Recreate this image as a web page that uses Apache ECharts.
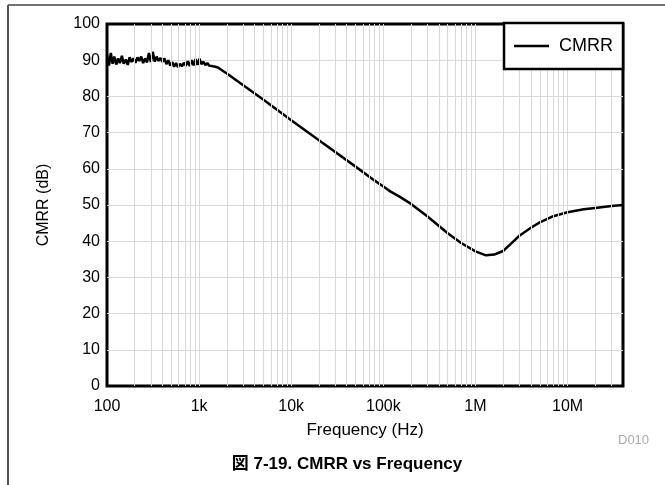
<!DOCTYPE html>
<html><head><meta charset="utf-8">
<script src="https://cdn.jsdelivr.net/npm/echarts@6/dist/echarts.min.js"></script>
<style>html,body{margin:0;padding:0;background:#fff}#c{width:665px;height:485px}</style>
</head><body><div id="c"></div>
<script>
// ---- data ----
const freqNoisy = [100,105,110,115,120,126,132,138,145,152,160,168,176,185,194,204,214,224,235,247,259,272,285,299,314,330,346,363,381,400,420,441,463,486,510,536,562,590,620,651,683,717,753,791,830,872,915,961,1009,1059,1112,1168,1226,1287,1351,1419,1500];
const cmrrNoisy = [91.5,88.5,92,89,91,88.8,90.5,89.2,91.2,89,90.2,88.7,90.8,89.5,90.5,89.3,90.8,89.8,91,89.2,90.5,89.4,92,89.5,92.3,89.6,91,89.8,90.6,89.5,90.5,88.9,90,88.5,89.5,88.2,89.2,88.1,89,88.3,89.3,88.5,89.7,88.4,90,88.6,90.3,88.7,90.4,88.9,89.6,88.6,89.2,88.5,88.7,88.3,88.2];
const freqSmooth = [1600,2000,5000,10000,20000,50000,80000,100000,120000,150000,200000,300000,500000,700000,1000000,1300000,1600000,2000000,2500000,3000000,4000000,5000000,7000000,10000000,15000000,20000000,30000000,40000000];
const cmrrSmooth = [88.0,86.3,79.1,73.4,67.9,60.6,56.8,55.1,53.7,52.3,50.3,46.9,42.2,39.5,37.2,36.1,36.3,37.3,39.6,41.5,43.7,45.2,46.9,48.0,48.8,49.2,49.7,50.0];
const seriesName = 'CMRR';
const xTicks = [100, 1000, 10000, 100000, 1000000, 10000000];
const xTickLabels = ['100', '1k', '10k', '100k', '1M', '10M'];
const decades = [100, 1000, 10000, 100000, 1000000, 10000000];
const gridMultipliers = [1, 2, 3, 4, 5, 6, 7, 8, 9];
const xMin = 100, xMax = 40000000;
const yMin = 0, yMax = 100, yStep = 10;

const curve = [];
freqNoisy.forEach((f, i) => curve.push([f, cmrrNoisy[i]]));
freqSmooth.forEach((f, i) => curve.push([f, cmrrSmooth[i]]));

const vLines = [];
decades.forEach(d => gridMultipliers.forEach(m => {
  const v = d * m;
  if (v > xMin && v < xMax) vLines.push({ xAxis: v });
}));

const FONT = '"Liberation Sans", Arial, "Noto Sans CJK JP", sans-serif';
const chart = echarts.init(document.getElementById('c'), null, { renderer: 'canvas' });
chart.setOption({
  animation: false,
  backgroundColor: '#fff',
  textStyle: { fontFamily: FONT, color: '#000' },
  title: {
    text: '図 7-19. CMRR vs Frequency',
    left: 342, top: 451, textAlign: 'center',
    textStyle: { fontFamily: FONT, fontSize: 17, fontWeight: 'bold', color: '#000' }
  },
  graphic: [
    { type: 'line', shape: { x1: 8, y1: 5, x2: 665, y2: 5 }, style: { stroke: '#444', lineWidth: 1.3 }, silent: true },
    { type: 'line', shape: { x1: 8, y1: 5, x2: 8, y2: 485 }, style: { stroke: '#555', lineWidth: 2 }, silent: true },
    { type: 'text', left: 618, top: 434, style: { text: 'D010', fill: '#aaa', font: '13px ' + FONT }, silent: true }
  ],
  grid: { left: 107, top: 24, width: 516, height: 362, show: true, borderColor: '#000', borderWidth: 3, backgroundColor: 'transparent' },
  legend: {
    data: [{ name: seriesName, icon: 'rect' }], right: 42, top: 23, z: 20,
    borderColor: '#000', borderWidth: 2.5, backgroundColor: '#fff',
    padding: [14, 10, 14, 10], itemWidth: 35, itemHeight: 2.5,
    itemStyle: { color: '#000' },
    textStyle: { fontFamily: FONT, fontSize: 18, color: '#000', padding: [0, 0, 0, 5] }
  },
  xAxis: {
    type: 'log', logBase: 10, min: xMin, max: xMax,
    name: 'Frequency (Hz)', nameLocation: 'middle', nameGap: 36,
    nameTextStyle: { fontFamily: FONT, fontSize: 17, color: '#000' },
    axisLine: { show: false }, axisTick: { show: false },
    splitLine: { show: false },
    axisLabel: {
      margin: 13, fontSize: 16, color: '#000', fontFamily: FONT,
      showMaxLabel: false,
      formatter: v => {
        const i = xTicks.findIndex(t => Math.abs(Math.log10(t) - Math.log10(v)) < 1e-6);
        return i >= 0 ? xTickLabels[i] : '';
      }
    }
  },
  yAxis: {
    type: 'value', min: yMin, max: yMax, interval: yStep,
    name: 'CMRR (dB)', nameLocation: 'middle', nameGap: 55,
    nameTextStyle: { fontFamily: FONT, fontSize: 16, color: '#000' },
    axisLine: { show: false }, axisTick: { show: false },
    axisLabel: { margin: 7, fontSize: 16, color: '#000', fontFamily: FONT },
    splitLine: { show: true, showMinLine: false, showMaxLine: false, lineStyle: { color: '#d9d9d9', width: 1 } }
  },
  series: [
    {
      type: 'line', name: '_grid', data: [], silent: true, z: 1,
      markLine: {
        silent: true, symbol: ['none', 'none'], animation: false,
        label: { show: false },
        lineStyle: { color: '#d9d9d9', width: 1, type: 'solid' },
        emphasis: { disabled: true },
        data: vLines
      }
    },
    {
      type: 'line', name: seriesName, data: curve, z: 3,
      showSymbol: false, symbol: 'none', smooth: false,
      lineStyle: { color: '#000', width: 2.5 },
      itemStyle: { color: '#000' }
    }
  ]
});
</script>
</body></html>
